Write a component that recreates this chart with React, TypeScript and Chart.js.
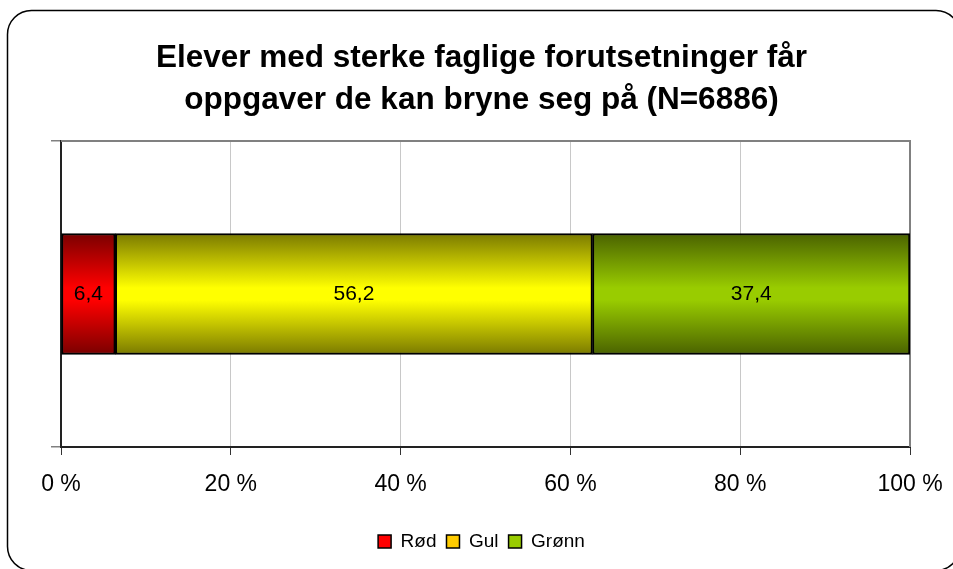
import React, { useEffect, useRef } from "react";
import { Chart, registerables } from "chart.js";

Chart.register(...registerables);

const categories = [""];
const seriesNames = ["Rød", "Gul", "Grønn"];
const rodValues = [6.4];
const gulValues = [56.2];
const gronnValues = [37.4];
const xTicks = [0, 20, 40, 60, 80, 100];
const titleLines = [
  "Elever med sterke faglige forutsetninger får",
  "oppgaver de kan bryne seg på (N=6886)",
];

const edgeColors = ["#7A0000", "#7A7A00", "#4A6200"];
const centerColors = ["#FF0000", "#FFFF00", "#99CC00"];
const legendColors = ["#FF0000", "#FFCC00", "#99CC00"];
const BAR_THICKNESS = 121;
const FONT = "'Liberation Sans', Arial, sans-serif";

function gradientFor(i: number) {
  return (ctx: any) => {
    const chart = ctx.chart;
    if (!chart.chartArea) return centerColors[i];
    const yScale = chart.scales.y;
    const c = yScale.getPixelForValue(ctx.dataIndex ?? 0);
    const top = c - BAR_THICKNESS / 2;
    const bottom = c + BAR_THICKNESS / 2;
    const g = chart.ctx.createLinearGradient(0, top, 0, bottom);
    g.addColorStop(0, edgeColors[i]);
    g.addColorStop(0.45, centerColors[i]);
    g.addColorStop(0.55, centerColors[i]);
    g.addColorStop(1, edgeColors[i]);
    return g;
  };
}

const framePlugin = {
  id: "frame",
  beforeDraw(chart: any) {
    const ctx = chart.ctx;
    ctx.save();
    ctx.fillStyle = "#FFFFFF";
    ctx.fillRect(0, 0, chart.width, chart.height);
    ctx.beginPath();
    ctx.roundRect(7.5, 10.5, 952.5, 560, 24);
    ctx.lineWidth = 1.5;
    ctx.strokeStyle = "#000000";
    ctx.stroke();
    ctx.restore();
  },
  beforeDatasetsDraw(chart: any) {
    const { ctx, chartArea: a } = chart;
    ctx.save();
    ctx.strokeStyle = "#808080";
    ctx.lineWidth = 2;
    ctx.beginPath();
    ctx.moveTo(a.left, a.top);
    ctx.lineTo(a.right, a.top);
    ctx.lineTo(a.right, a.bottom);
    ctx.stroke();
    ctx.restore();
  },
  afterDatasetsDraw(chart: any) {
    const ctx = chart.ctx;
    ctx.save();
    ctx.font = `21px ${FONT}`;
    ctx.fillStyle = "#000000";
    ctx.textAlign = "center";
    ctx.textBaseline = "middle";
    chart.data.datasets.forEach((ds: any, di: number) => {
      const meta = chart.getDatasetMeta(di);
      meta.data.forEach((el: any, i: number) => {
        const v = ds.data[i];
        const x = (el.x + el.base) / 2;
        ctx.fillText(String(v.toFixed(1)).replace(".", ","), x, el.y);
      });
    });
    ctx.restore();
  },
};

export default function App() {
  const ref = useRef<HTMLCanvasElement>(null);
  useEffect(() => {
    if (!ref.current) return;
    const seriesData = [rodValues, gulValues, gronnValues];
    const chart = new Chart(ref.current, {
      type: "bar",
      data: {
        labels: categories,
        datasets: seriesData.map((d, i) => ({
          label: seriesNames[i],
          data: d,
          backgroundColor: gradientFor(i),
          borderColor: "#000000",
          borderWidth: 2,
          borderSkipped: false,
          barThickness: BAR_THICKNESS,
        })),
      },
      options: {
        indexAxis: "y",
        animation: false,
        responsive: false,
        layout: { padding: { left: 10, right: 0, top: 0, bottom: 8 } },
        scales: {
          x: {
            stacked: true,
            min: 0,
            max: 100,
            afterBuildTicks: (scale: any) => {
              scale.ticks = xTicks.map((v) => ({ value: v }));
            },
            afterFit: (scale: any) => {
              scale.height = 75;
              scale.paddingLeft = 0;
              scale.paddingRight = 0;
            },
            ticks: {
              callback: (v: any) => `${v} %`,
              color: "#000000",
              font: { family: FONT, size: 23 },
              padding: 16,
              maxRotation: 0,
            },
            grid: {
              color: "#C8C8C8",
              tickColor: "#333333",
              tickLength: 8,
              lineWidth: 1,
            },
            border: { color: "#222222", width: 2 },
          },
          y: {
            stacked: true,
            afterFit: (scale: any) => {
              scale.width = 51;
            },
            ticks: { display: false },
            grid: {
              offset: true,
              drawOnChartArea: false,
              tickColor: "#808080",
              tickLength: 10,
              lineWidth: 1.5,
            },
            border: { color: "#222222", width: 2 },
          },
          y2: {
            type: "category",
            position: "right",
            afterFit: (scale: any) => {
              scale.width = 43;
            },
            ticks: { display: false },
            grid: { display: false },
            border: { display: false },
          },
        },
        plugins: {
          title: {
            display: true,
            text: titleLines,
            color: "#000000",
            font: { family: FONT, size: 31.5, weight: "bold", lineHeight: 1.333 },
            padding: { top: 37, bottom: 20 },
          },
          legend: {
            position: "bottom",
            labels: {
              color: "#000000",
              font: { family: FONT, size: 19 },
              boxWidth: 13,
              boxHeight: 13,
              padding: 10,
              generateLabels: () =>
                seriesNames.map((n, i) => ({
                  text: n,
                  fillStyle: legendColors[i],
                  strokeStyle: "#000000",
                  lineWidth: 1.5,
                  datasetIndex: i,
                  hidden: false,
                })),
            },
          },
          tooltip: { enabled: false },
        },
      },
      plugins: [framePlugin],
    });
    return () => chart.destroy();
  }, []);
  return (
    <div style={{ position: "absolute", left: 0, top: 0, width: 953, height: 569 }}>
      <canvas ref={ref} width={953} height={569} style={{ display: "block" }} />
    </div>
  );
}
